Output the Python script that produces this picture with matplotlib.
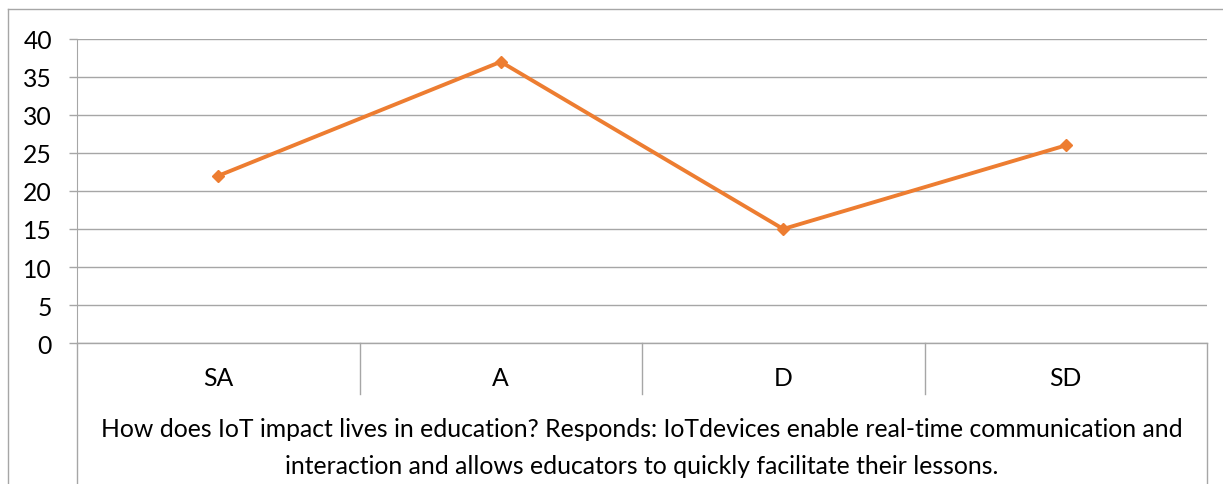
import matplotlib
matplotlib.use("Agg")
import matplotlib.pyplot as plt

categories = ["SA", "A", "D", "SD"]
values = [22, 37, 15, 26]
yticks = [0, 5, 10, 15, 20, 25, 30, 35, 40]
xlabel = ("How does IoT impact lives in education? Responds: IoTdevices enable real-time communication and\n"
          "interaction and allows educators to quickly facilitate their lessons.")

W, H = 1223, 485
plt.rcParams["font.family"] = ["Lato", "DejaVu Sans"]
fig = plt.figure(figsize=(W / 100, H / 100), dpi=100)

# plot area in pixels: x 77..1207, y 40..344
x0, x1, y0, y1 = 77, 1207, 40, 344
ax = fig.add_axes([x0 / W, 1 - y1 / H, (x1 - x0) / W, (y1 - y0) / H])

grid_c = "#a6a6a6"
line_c = "#ED7D31"
fs = 17.8

xs = list(range(len(categories)))
ax.plot(xs, values, color=line_c, lw=2.8, marker="D", ms=6.5, zorder=3)
ax.set_xlim(-0.5, len(categories) - 0.5)
ax.set_ylim(0, 40)
ax.set_yticks(yticks)
ax.set_yticklabels([str(v) for v in yticks], fontsize=fs)
ax.tick_params(axis="y", length=6, width=1, color=grid_c, pad=12)
ax.set_xticks([])
ax.yaxis.grid(True, color=grid_c, lw=1)
ax.set_axisbelow(True)
for s in ["top", "right", "bottom"]:
    ax.spines[s].set_visible(False)
ax.spines["left"].set_color(grid_c)

# category table below the axis (Excel-style)
tr = ax.transAxes
def px_to_ay(py):
    return (y1 - py) / (y1 - y0)

ax.plot([0, 1], [0, 0], color=grid_c, lw=1, transform=tr, clip_on=False)
ax.plot([0, 0], [0, px_to_ay(H + 5)], color=grid_c, lw=1, transform=tr, clip_on=False)
ax.plot([1, 1], [0, px_to_ay(H + 5)], color=grid_c, lw=1, transform=tr, clip_on=False)
for i in range(1, len(categories)):
    xf = i / len(categories)
    ax.plot([xf, xf], [0, px_to_ay(395)], color=grid_c, lw=1, transform=tr, clip_on=False)
for i, c in enumerate(categories):
    ax.text(i, px_to_ay(379) * 40, c, ha="center", va="center", fontsize=fs)
ax.text(0.5, px_to_ay(448), xlabel, transform=tr, ha="center", va="center",
        fontsize=fs, linespacing=1.7)

# outer chart border
fig.add_artist(plt.Line2D([8 / W, 1.0], [1 - 10 / H, 1 - 10 / H], color=grid_c, lw=1))
fig.add_artist(plt.Line2D([8 / W, 8 / W], [0, 1 - 10 / H], color=grid_c, lw=1))

fig.savefig("out.png", dpi=100, facecolor="white")
